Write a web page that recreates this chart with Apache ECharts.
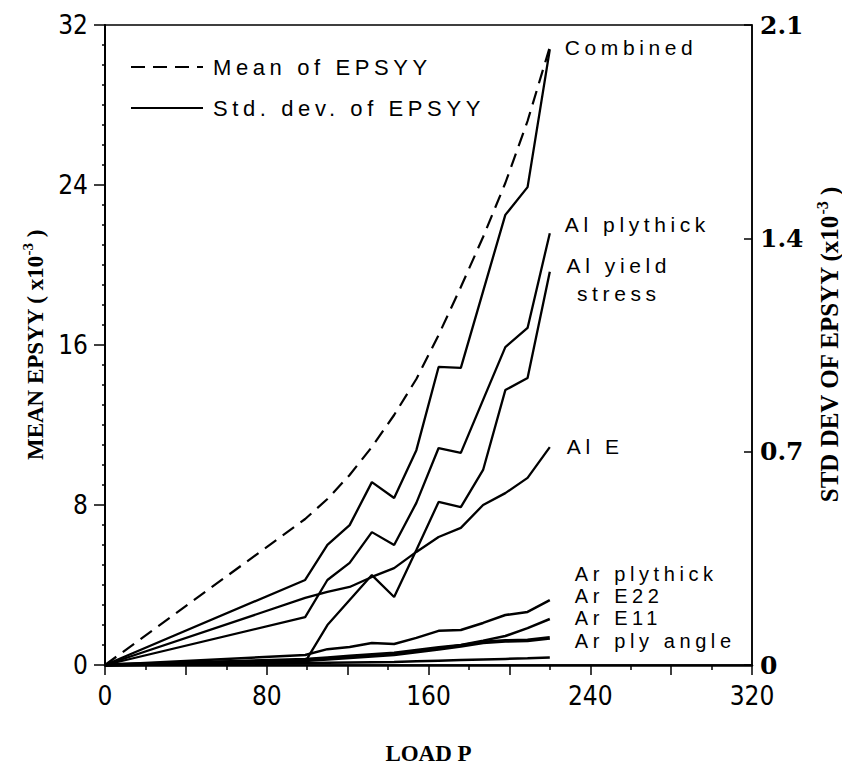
<!DOCTYPE html>
<html><head><meta charset="utf-8">
<style>
html,body{margin:0;padding:0;background:#fff;}
#chart{width:842px;height:768px;}
#chart text[style*="Liberation Sans"]:not([style*="Narrow"]){letter-spacing:4.6px;}
</style>
<script src="https://cdn.jsdelivr.net/npm/echarts@6/dist/echarts.min.js"></script>
</head><body><div id="chart"></div>
<script>
// ---- data ----
const loads = [0, 99, 110, 121, 132, 143, 154, 165, 176, 187, 198, 209, 220];
const meanEpsyy      = [0, 7.3, 8.3, 9.5, 10.9, 12.5, 14.3, 16.5, 18.9, 21.4, 24.1, 27.2, 30.9];
const stdCombined    = [0, 0.279, 0.394, 0.459, 0.600, 0.548, 0.705, 0.978, 0.975, 1.226, 1.477, 1.568, 2.02];
const stdAlPlythick  = [0, 0.157, 0.279, 0.335, 0.436, 0.394, 0.532, 0.712, 0.696, 0.870, 1.043, 1.106, 1.417];
const stdAlYield     = [0, 0.01, 0.131, 0.213, 0.295, 0.223, 0.377, 0.535, 0.518, 0.640, 0.902, 0.942, 1.29];
const stdAlE         = [0, 0.220, 0.240, 0.256, 0.289, 0.318, 0.371, 0.420, 0.450, 0.525, 0.564, 0.614, 0.715];
const stdArPlythick  = [0, 0.033, 0.052, 0.059, 0.072, 0.069, 0.089, 0.112, 0.115, 0.138, 0.164, 0.174, 0.213];
const stdArE22       = [0, 0.020, 0.025, 0.030, 0.035, 0.040, 0.049, 0.058, 0.066, 0.080, 0.095, 0.121, 0.151];
const stdArE11       = [0, 0.015, 0.020, 0.025, 0.030, 0.035, 0.044, 0.053, 0.063, 0.074, 0.079, 0.081, 0.089];
const stdArPlyAngle  = [0, 0.006, 0.007, 0.008, 0.009, 0.010, 0.012, 0.014, 0.016, 0.018, 0.020, 0.022, 0.025];
const xTickLabels = [0, 80, 160, 240, 320];
const leftTickLabels = [0, 8, 16, 24, 32];
const rightTickLabels = [0, 0.7, 1.4, 2.1];
const curveNames = ['Combined', 'Al plythick', 'Al yield\nstress', 'Al E', 'Ar plythick', 'Ar E22', 'Ar E11', 'Ar ply angle'];
const legendNames = ['Mean of EPSYY', 'Std. dev. of EPSYY'];

// ---- styling ----
const stdData = [stdCombined, stdAlPlythick, stdAlYield, stdAlE, stdArPlythick, stdArE22, stdArE11, stdArPlyAngle];
const labelStyle = [
  {dist: 15, dy: -2, lh: 24, fs: 21},
  {dist: 15, dy: -9, lh: 24, fs: 21},
  {dist: 69, dy: 8, lh: 28, fs: 21, align: 'center'},
  {dist: 17, dy: -1, lh: 24, fs: 21},
  {dist: 25, dy: -26, lh: 19, fs: 20},
  {dist: 25, dy: -23, lh: 19, fs: 20},
  {dist: 25, dy: -20, lh: 19, fs: 20},
  {dist: 25, dy: -16, lh: 19, fs: 20}
];
const widths = [2.3, 2.3, 2.3, 2.3, 2.5, 2.5, 3.8, 2.5];
const pair = arr => loads.map((x, i) => [x, arr[i]]);
const LAB_FONT = 'Liberation Sans';
const NUM_FONT = "'Liberation Sans Narrow', 'DejaVu Sans Condensed', Roboto";

const series = [{
  name: legendNames[0], type: 'line', yAxisIndex: 0, symbol: 'none', silent: true,
  data: pair(meanEpsyy),
  lineStyle: {color: '#000', width: 2.2, type: [14, 8]}, itemStyle: {color: '#000'}
}, {
  name: legendNames[1], type: 'line', yAxisIndex: 1, symbol: 'none', data: [],
  lineStyle: {color: '#000', width: 2.3}, itemStyle: {color: '#000'}
}];
stdData.forEach((arr, k) => {
  const ls = labelStyle[k];
  series.push({
    name: curveNames[k].replace('\n', ' '), type: 'line', yAxisIndex: 1, symbol: 'none', silent: true,
    data: pair(arr),
    lineStyle: {color: '#000', width: widths[k]}, itemStyle: {color: '#000'},
    endLabel: {
      show: true, formatter: curveNames[k], distance: ls.dist, offset: [0, ls.dy],
      align: ls.align || 'left', color: '#000', fontFamily: LAB_FONT, fontSize: ls.fs, lineHeight: ls.lh
    }
  });
});

const chart = echarts.init(document.getElementById('chart'), null, {renderer: 'svg'});
chart.setOption({
  animation: false,
  backgroundColor: '#fff',
  grid: {left: 105, right: 90, top: 25, bottom: 103, show: true, borderColor: '#000', borderWidth: 1.5, containLabel: false, outerBoundsMode: 'none'},
  legend: {
    data: legendNames, orient: 'vertical', left: 125, top: 51, itemWidth: 72, itemHeight: 14, itemGap: 19,
    selectedMode: false, itemStyle: {opacity: 0}, lineStyle: {opacity: 1},
    textStyle: {fontFamily: LAB_FONT, fontSize: 22, color: '#000', lineHeight: 22, padding: [0, 0, 0, 5]}
  },
  xAxis: {
    type: 'value', min: xTickLabels[0], max: xTickLabels[xTickLabels.length - 1], interval: 40,
    name: 'LOAD P', nameLocation: 'middle', nameGap: 77,
    nameTextStyle: {fontFamily: 'Liberation Serif', fontWeight: 'bold', fontSize: 23, color: '#000'},
    axisLine: {lineStyle: {color: '#000', width: 2.5}},
    axisTick: {length: 10, lineStyle: {color: '#000', width: 1.5}},
    minorTick: {show: true, splitNumber: 2, length: 5, lineStyle: {color: '#000', width: 1.5}},
    splitLine: {show: false},
    axisLabel: {
      margin: 18, color: '#000', fontFamily: NUM_FONT, fontSize: 26,
      formatter: v => xTickLabels.indexOf(v) >= 0 ? String(v) : ''
    }
  },
  yAxis: [{
    type: 'value', position: 'left', min: leftTickLabels[0], max: leftTickLabels[leftTickLabels.length - 1],
    interval: leftTickLabels[1] - leftTickLabels[0],
    name: '{a|MEAN EPSYY ( x10}{s|-3}{a| )}', nameLocation: 'middle', nameGap: 46, nameRotate: 90,
    nameTextStyle: {
      color: '#000',
      rich: {
        a: {fontFamily: 'Liberation Serif', fontWeight: 'bold', fontSize: 23, lineHeight: 30, color: '#000'},
        s: {fontFamily: 'Liberation Serif', fontWeight: 'bold', fontSize: 15, lineHeight: 12, verticalAlign: 'top', color: '#000'}
      }
    },
    axisLine: {show: true, lineStyle: {color: '#000', width: 2}},
    axisTick: {show: true, length: 11, lineStyle: {color: '#000', width: 1.5}},
    minorTick: {show: true, splitNumber: 8, length: 3, lineStyle: {color: '#000', width: 1.5}},
    splitLine: {show: false},
    axisLabel: {margin: 17, color: '#000', fontFamily: NUM_FONT, fontSize: 26}
  }, {
    type: 'value', position: 'right', min: rightTickLabels[0], max: rightTickLabels[rightTickLabels.length - 1],
    interval: 0.7,
    name: '{a|STD DEV OF EPSYY (x10}{s|-3}{a| )}', nameLocation: 'middle', nameGap: 58, nameRotate: 90,
    nameTextStyle: {
      color: '#000',
      rich: {
        a: {fontFamily: 'Liberation Serif', fontWeight: 'bold', fontSize: 25, lineHeight: 30, color: '#000'},
        s: {fontFamily: 'Liberation Serif', fontWeight: 'bold', fontSize: 16, lineHeight: 12, verticalAlign: 'top', color: '#000'}
      }
    },
    axisLine: {show: true, lineStyle: {color: '#000', width: 1.5}},
    axisTick: {show: true, inside: true, length: 8, lineStyle: {color: '#000', width: 1.5}},
    splitLine: {show: false},
    axisLabel: {
      margin: 8, color: '#000', fontFamily: 'DejaVu Serif', fontWeight: 'bold', fontSize: 25,
      formatter: v => v === 0 ? '0' : v.toFixed(1)
    }
  }],
  series: series
});
</script>
</body></html>
